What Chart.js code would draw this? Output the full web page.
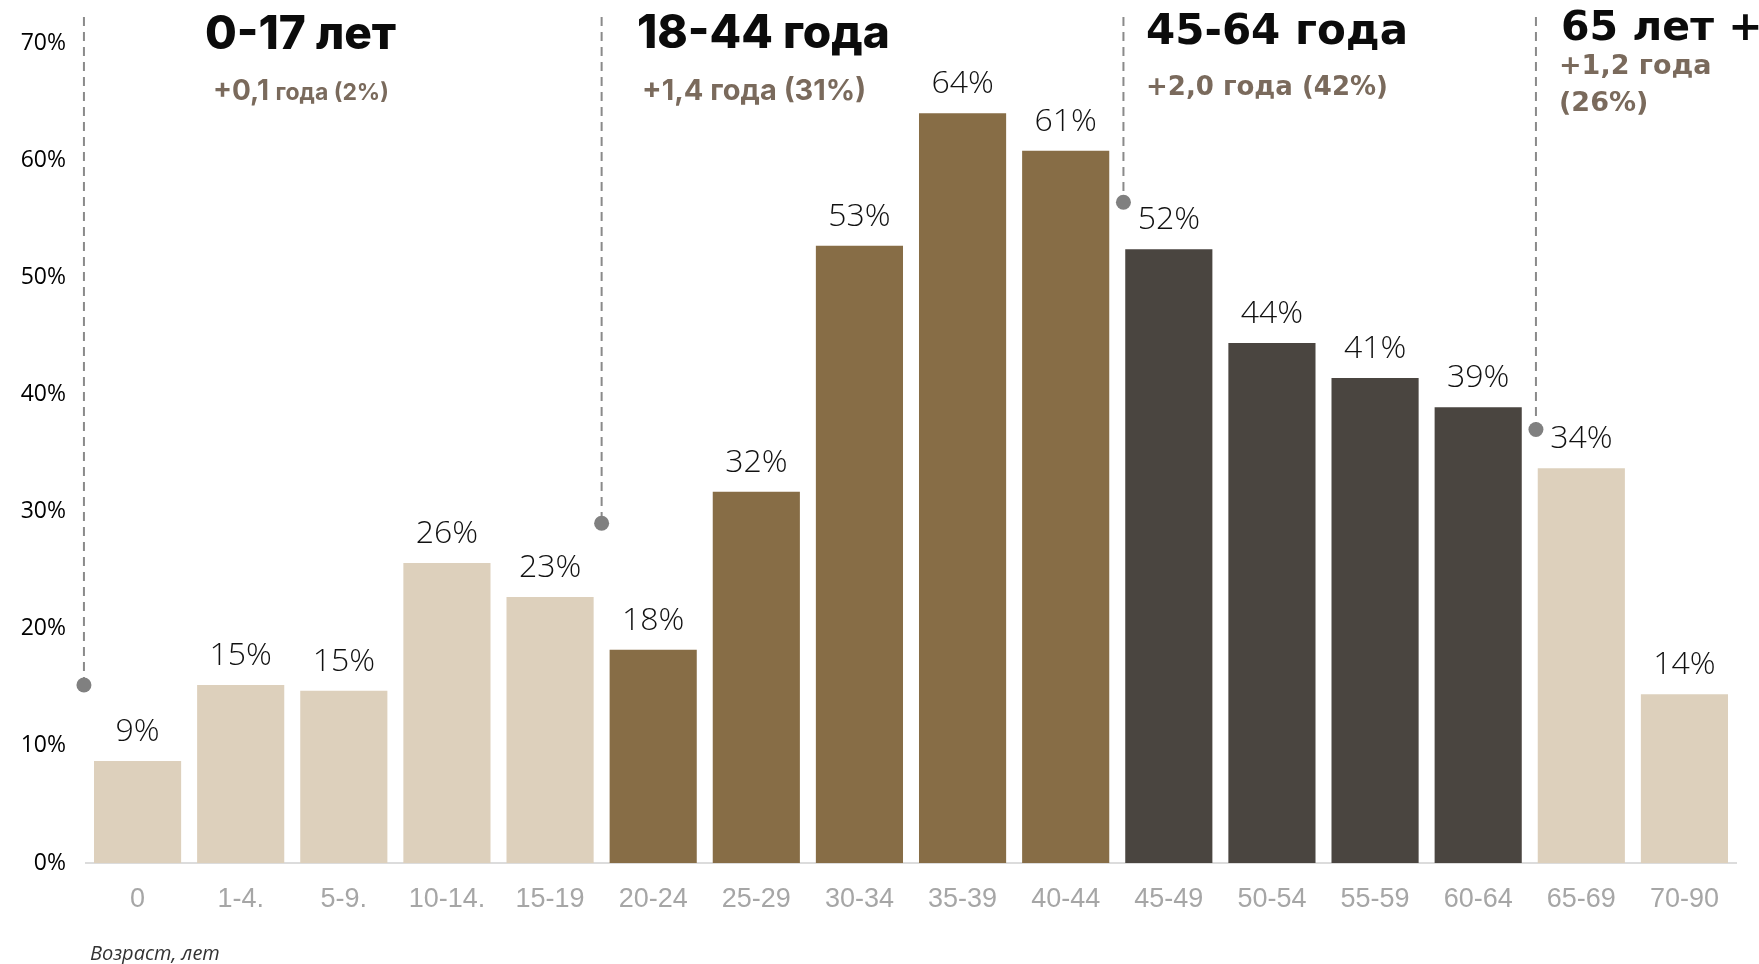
<!DOCTYPE html>
<html lang="ru">
<head>
<meta charset="utf-8">
<title>Возраст, лет</title>
<script src="https://cdn.jsdelivr.net/npm/chart.js@4.4.1/dist/chart.umd.min.js"></script>
<style>
    html, body { margin: 0; padding: 0; background: #fff; }
    #wrap { width: 1759px; height: 964px; position: relative; }
</style>
</head>
<body>
<div id="wrap"><canvas id="ageCanvas"></canvas></div>
<script>
// возрастные интервалы (ось X)
let ageLabels = ['0', '1-4.', '5-9.', '10-14.', '15-19', '20-24', '25-29', '30-34', '35-39', '40-44',
                 '45-49', '50-54', '55-59', '60-64', '65-69', '70-90'];
// значения столбцов, %
let ageValues = [8.7, 15.2, 14.7, 25.6, 22.7, 18.2, 31.7, 52.7, 64.0, 60.8,
                 52.4, 44.4, 41.4, 38.9, 33.7, 14.4];
// к какой группе относится каждый интервал
let ageGroup = [0, 0, 0, 0, 0, 1, 1, 1, 1, 1, 2, 2, 2, 2, 3, 3];
// подписи групп
let groupTitles = ['0-17 лет', '18-44 года', '45-64 года', '65 лет +'];
let groupNotes = ['+0,1 года (2%)', '+1,4 года (31%)', '+2,0 года (42%)', '+1,2 года (26%)'];
// уровень точки на пунктирной линии, %
let groupDotValues = [15.2, 29.0, 56.4, 37.0];
// шкала Y
let yMax = 70;
let yStep = 10;
let axisTitle = 'Возраст, лет';

let groupColors = ['#ddd0bc', '#876d46', '#4a4540', '#ddd0bc'];

// расположение подписей групп (пиксели) и положение линии (в индексах категорий)
let groupLayout = [
    { line: -0.52, tx: 205, ty: 49, tFont: '800 46px Inter', nx: 213, ny: 100, nFont: '700 28px Inter', sFont: '700 23px Inter', mode: 'small' },
    { line: 4.5, tx: 637, ty: 48, tFont: '800 46px Inter', nx: 642, ny: 100, nFont: '700 29px Inter', mode: 'line' },
    { line: 9.56, tx: 1146, ty: 44, tFont: 'bold 42px "DejaVu Sans"', nx: 1146, ny: 95, nFont: 'bold 26px "DejaVu Sans"', mode: 'line' },
    { line: 13.56, tx: 1561, ty: 40, tFont: 'bold 41px "DejaVu Sans"', nx: 1559, ny: 74, nFont: 'bold 27px "DejaVu Sans"', mode: 'wrap', lh: 37 }
];

let barColors = [];
for (let i = 0; i < ageGroup.length; i++) {
    barColors.push(groupColors[ageGroup[i]]);
}

// подписи над столбцами + линии групп
let overlayPlugin = {
    id: 'overlay',
    afterDatasetsDraw(chart) {
        let ctx = chart.ctx;
        let xs = chart.scales.x;
        let ys = chart.scales.y;
        let meta = chart.getDatasetMeta(0);

        ctx.save();
        ctx.fillStyle = '#111';
        ctx.font = '300 32px "Open Sans"';
        ctx.textAlign = 'center';
        ctx.textBaseline = 'alphabetic';
        meta.data.forEach(function(bar, i) {
            ctx.fillText(Math.round(ageValues[i]) + '%', bar.x, bar.y - 20);
        });

        // пунктирные линии с точкой
        groupLayout.forEach(function(g, i) {
            let x = xs.getPixelForValue(g.line);
            let yDot = ys.getPixelForValue(groupDotValues[i]);
            ctx.strokeStyle = '#8a8a8a';
            ctx.lineWidth = 2;
            ctx.setLineDash([9, 6]);
            ctx.beginPath();
            ctx.moveTo(x, 17);
            ctx.lineTo(x, yDot);
            ctx.stroke();
            ctx.setLineDash([]);
            ctx.fillStyle = '#808080';
            ctx.beginPath();
            ctx.arc(x, yDot, 7.5, 0, Math.PI * 2);
            ctx.fill();
        });

        // заголовки групп
        ctx.textAlign = 'left';
        groupLayout.forEach(function(g, i) {
            ctx.fillStyle = '#0b0b0b';
            ctx.font = g.tFont;
            ctx.fillText(groupTitles[i], g.tx, g.ty);

            ctx.fillStyle = '#7a6a5c';
            let note = groupNotes[i];
            if (g.mode === 'small') {
                let cut = note.indexOf(' ');
                let head = note.slice(0, cut);
                ctx.font = g.nFont;
                ctx.fillText(head, g.nx, g.ny);
                let w = ctx.measureText(head + ' ').width;
                ctx.font = g.sFont;
                ctx.fillText(note.slice(cut + 1), g.nx + w, g.ny);
            } else if (g.mode === 'wrap') {
                let cut = note.lastIndexOf(' ');
                ctx.font = g.nFont;
                ctx.fillText(note.slice(0, cut), g.nx, g.ny);
                ctx.fillText(note.slice(cut + 1), g.nx, g.ny + g.lh);
            } else {
                ctx.font = g.nFont;
                ctx.fillText(note, g.nx, g.ny);
            }
        });

        // подпись оси
        ctx.fillStyle = '#333';
        ctx.font = 'italic 20px "Open Sans"';
        ctx.fillText(axisTitle, 90, 960);
        ctx.restore();
    }
};

let ageCanvas = document.getElementById('ageCanvas').getContext('2d');

let ageChart = new Chart(ageCanvas, {
    type: 'bar',
    data: {
        labels: ageLabels,
        datasets: [{
            data: ageValues,
            backgroundColor: barColors,
            borderWidth: 0,
            barPercentage: 0.845,
            categoryPercentage: 1.0
        }]
    },
    options: {
        responsive: true,
        maintainAspectRatio: false,
        animation: false,
        layout: { padding: { top: 43, right: 23, left: 0, bottom: 0 } },
        plugins: {
            legend: { display: false },
            tooltip: { enabled: false }
        },
        scales: {
            x: {
                grid: { display: false, drawTicks: false },
                border: { display: true, color: '#dcdcdc', width: 2 },
                ticks: {
                    color: '#a6a6a6',
                    font: { family: '"Liberation Sans"', size: 27 },
                    padding: 20,
                    maxRotation: 0,
                    autoSkip: false
                },
                afterFit: function(scale) { scale.height = 101; }
            },
            y: {
                min: 0,
                max: yMax,
                grid: { display: false, drawTicks: false },
                border: { display: false },
                ticks: {
                    stepSize: yStep,
                    color: '#000',
                    font: { family: '"Open Sans"', size: 23 },
                    padding: 20,
                    callback: function(v) { return v + '%'; }
                },
                afterFit: function(scale) { scale.width = 86; }
            }
        }
    },
    plugins: [overlayPlugin]
});
</script>
</body>
</html>
